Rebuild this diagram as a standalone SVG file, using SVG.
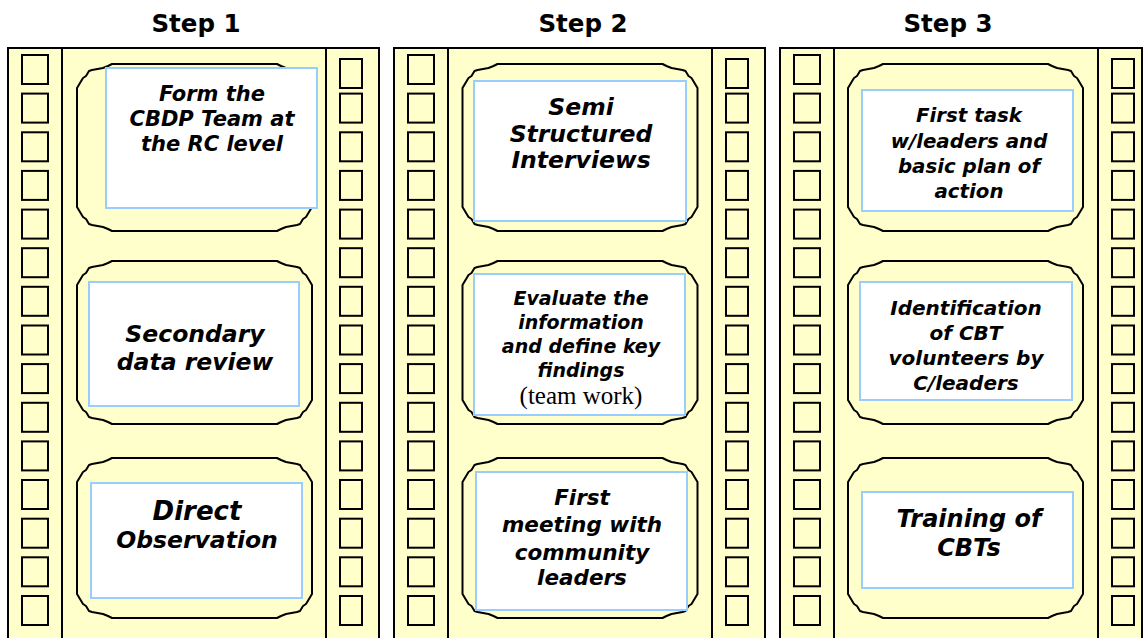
<svg xmlns="http://www.w3.org/2000/svg" xmlns:xlink="http://www.w3.org/1999/xlink" width="1144" height="638" viewBox="0 0 1144 638">
  <style>
    .panel { fill: #FFFFCC; stroke: #000; stroke-width: 2; }
    .rail { fill: none; stroke: #000; stroke-width: 2; }
    .hole { fill: none; stroke: #000; stroke-width: 2; }
    .frame { fill: #FFFFCC; stroke: #000; stroke-width: 2; stroke-linejoin: round; }
    .card { fill: #FFFFFF; stroke: #99CCFF; stroke-width: 2; }
    .head { font-family: "DejaVu Sans", Verdana, sans-serif; font-weight: bold; font-size: 24.5px; text-anchor: middle; fill: #000; }
    .t { font-family: "DejaVu Sans", Verdana, sans-serif; font-weight: bold; font-style: italic; text-anchor: middle; fill: #000; }
    .serif { font-family: "Liberation Serif", "Times New Roman", serif; font-size: 25px; text-anchor: middle; fill: #000; }
  </style>
  <defs>
    <!-- sprocket rails and holes of one film strip, relative to the strip's left edge -->
    <g id="sprockets">
      <line class="rail" x1="54" y1="48" x2="54" y2="650"/>
      <line class="rail" x1="318" y1="48" x2="318" y2="650"/>
      <g class="hole">
        <rect x="14" y="55" width="26" height="29"/>
        <rect x="14" y="93.6" width="26" height="29"/>
        <rect x="14" y="132.3" width="26" height="29"/>
        <rect x="14" y="170.9" width="26" height="29"/>
        <rect x="14" y="209.6" width="26" height="29"/>
        <rect x="14" y="248.2" width="26" height="29"/>
        <rect x="14" y="286.8" width="26" height="29"/>
        <rect x="14" y="325.5" width="26" height="29"/>
        <rect x="14" y="364.1" width="26" height="29"/>
        <rect x="14" y="402.8" width="26" height="29"/>
        <rect x="14" y="441.4" width="26" height="29"/>
        <rect x="14" y="480" width="26" height="29"/>
        <rect x="14" y="518.7" width="26" height="29"/>
        <rect x="14" y="557.3" width="26" height="29"/>
        <rect x="14" y="596" width="26" height="29"/>

        <rect x="332" y="59" width="22" height="29"/>
        <rect x="332" y="93.6" width="22" height="29"/>
        <rect x="332" y="132.3" width="22" height="29"/>
        <rect x="332" y="170.9" width="22" height="29"/>
        <rect x="332" y="209.6" width="22" height="29"/>
        <rect x="332" y="248.2" width="22" height="29"/>
        <rect x="332" y="286.8" width="22" height="29"/>
        <rect x="332" y="325.5" width="22" height="29"/>
        <rect x="332" y="364.1" width="22" height="29"/>
        <rect x="332" y="402.8" width="22" height="29"/>
        <rect x="332" y="441.4" width="22" height="29"/>
        <rect x="332" y="480" width="22" height="29"/>
        <rect x="332" y="518.7" width="22" height="29"/>
        <rect x="332" y="557.3" width="22" height="29"/>
        <rect x="332" y="596" width="22" height="29"/>
      </g>
    </g>
    <!-- notched plaque outlines, one per frame height (left edge at x=0, top at y=0) -->
    <path id="plaque-top" d="M35,0 h165 l4,2 l5,2 l11,2 l3,1 l3,5 l3,2 l6,10 v119 l-6,10 l-3,2 l-3,5 l-3,1 l-11,2 l-5,2 l-4,2 h-165 l-4,-2 l-5,-2 l-11,-2 l-3,-1 l-3,-5 l-3,-2 l-6,-10 v-119 l6,-10 l3,-2 l3,-5 l3,-1 l11,-2 l5,-2 l4,-2 z"/>
    <path id="plaque-mid" d="M35,0 h165 l4,2 l5,2 l11,2 l3,1 l3,5 l3,2 l6,10 v115 l-6,10 l-3,2 l-3,5 l-3,1 l-11,2 l-5,2 l-4,2 h-165 l-4,-2 l-5,-2 l-11,-2 l-3,-1 l-3,-5 l-3,-2 l-6,-10 v-115 l6,-10 l3,-2 l3,-5 l3,-1 l11,-2 l5,-2 l4,-2 z"/>
    <path id="plaque-low" d="M35,0 h165 l4,2 l5,2 l11,2 l3,1 l3,5 l3,2 l6,10 v112 l-6,10 l-3,2 l-3,5 l-3,1 l-11,2 l-5,2 l-4,2 h-165 l-4,-2 l-5,-2 l-11,-2 l-3,-1 l-3,-5 l-3,-2 l-6,-10 v-112 l6,-10 l3,-2 l3,-5 l3,-1 l11,-2 l5,-2 l4,-2 z"/>
  </defs>

  <rect width="1144" height="638" fill="#FFFFFF"/>

  <!-- Step 1 -->
  <g id="step1">
    <text class="head" x="196" y="31.5">Step 1</text>
    <rect class="panel" x="8" y="48" width="371" height="610"/>
    <use xlink:href="#sprockets" href="#sprockets" transform="translate(8,0)"/>

    <g id="form-team">
      <use class="frame" xlink:href="#plaque-top" href="#plaque-top" transform="translate(77,64)"/>
      <rect class="card" x="106" y="68" width="211" height="140"/>
      <text class="t" font-size="21" x="212" y="101">Form the</text>
      <text class="t" font-size="21" x="212" y="126">CBDP Team at</text>
      <text class="t" font-size="21" x="212" y="151">the RC level</text>
    </g>

    <g id="secondary-data">
      <use class="frame" xlink:href="#plaque-mid" href="#plaque-mid" transform="translate(77,261)"/>
      <rect class="card" x="89" y="282" width="210" height="124"/>
      <text class="t" font-size="23.5" x="195" y="341.5">Secondary</text>
      <text class="t" font-size="23.5" x="195" y="369.5">data review</text>
    </g>

    <g id="direct-observation">
      <use class="frame" xlink:href="#plaque-low" href="#plaque-low" transform="translate(77,458)"/>
      <rect class="card" x="91" y="483" width="211" height="115"/>
      <text class="t" font-size="26" x="197" y="520">Direct</text>
      <text class="t" font-size="23.5" x="197" y="548">Observation</text>
    </g>
  </g>

  <!-- Step 2 -->
  <g id="step2">
    <text class="head" x="583" y="31.5">Step 2</text>
    <rect class="panel" x="394" y="48" width="371" height="610"/>
    <use xlink:href="#sprockets" href="#sprockets" transform="translate(394,0)"/>

    <g id="interviews">
      <use class="frame" xlink:href="#plaque-top" href="#plaque-top" transform="translate(462.5,64)"/>
      <rect class="card" x="474" y="81" width="212" height="140"/>
      <text class="t" font-size="23.5" x="581" y="115">Semi</text>
      <text class="t" font-size="23.5" x="581" y="141.7">Structured</text>
      <text class="t" font-size="23.5" x="581" y="168.3">Interviews</text>
    </g>

    <g id="key-findings">
      <use class="frame" xlink:href="#plaque-mid" href="#plaque-mid" transform="translate(462.5,261)"/>
      <rect class="card" x="474" y="274" width="211" height="141"/>
      <text class="t" font-size="19" x="581" y="305">Evaluate the</text>
      <text class="t" font-size="19" x="581" y="329">information</text>
      <text class="t" font-size="19" x="581" y="353">and define key</text>
      <text class="t" font-size="19" x="581" y="377">findings</text>
      <text class="serif" x="581" y="404">(team work)</text>
    </g>

    <g id="first-meeting">
      <use class="frame" xlink:href="#plaque-low" href="#plaque-low" transform="translate(462.5,458)"/>
      <rect class="card" x="476" y="472" width="211" height="138"/>
      <text class="t" font-size="21.5" x="582" y="505">First</text>
      <text class="t" font-size="21.5" x="582" y="532">meeting with</text>
      <text class="t" font-size="21.5" x="582" y="560">community</text>
      <text class="t" font-size="21.5" x="582" y="585">leaders</text>
    </g>
  </g>

  <!-- Step 3 -->
  <g id="step3">
    <text class="head" x="948" y="31.5">Step 3</text>
    <rect class="panel" x="780" y="48" width="362" height="610"/>
    <use xlink:href="#sprockets" href="#sprockets" transform="translate(780,0)"/>

    <g id="first-task">
      <use class="frame" xlink:href="#plaque-top" href="#plaque-top" transform="translate(848,64)"/>
      <rect class="card" x="862" y="90" width="211" height="121"/>
      <text class="t" font-size="19.8" x="969" y="121.7">First task</text>
      <text class="t" font-size="19.8" x="969" y="148.3">w/leaders and</text>
      <text class="t" font-size="19.8" x="969" y="173.3">basic plan of</text>
      <text class="t" font-size="19.8" x="969" y="198.3">action</text>
    </g>

    <g id="cbt-volunteers">
      <use class="frame" xlink:href="#plaque-mid" href="#plaque-mid" transform="translate(848,261)"/>
      <rect class="card" x="860" y="282" width="212" height="118"/>
      <text class="t" font-size="20" x="966" y="315">Identification</text>
      <text class="t" font-size="20" x="966" y="340">of CBT</text>
      <text class="t" font-size="20" x="966" y="365">volunteers by</text>
      <text class="t" font-size="20" x="966" y="390">C/leaders</text>
    </g>

    <g id="cbt-training">
      <use class="frame" xlink:href="#plaque-low" href="#plaque-low" transform="translate(848,458)"/>
      <rect class="card" x="862" y="492" width="211" height="96"/>
      <text class="t" font-size="24" x="969" y="526.7">Training of</text>
      <text class="t" font-size="24" x="969" y="556">CBTs</text>
    </g>
  </g>
</svg>
